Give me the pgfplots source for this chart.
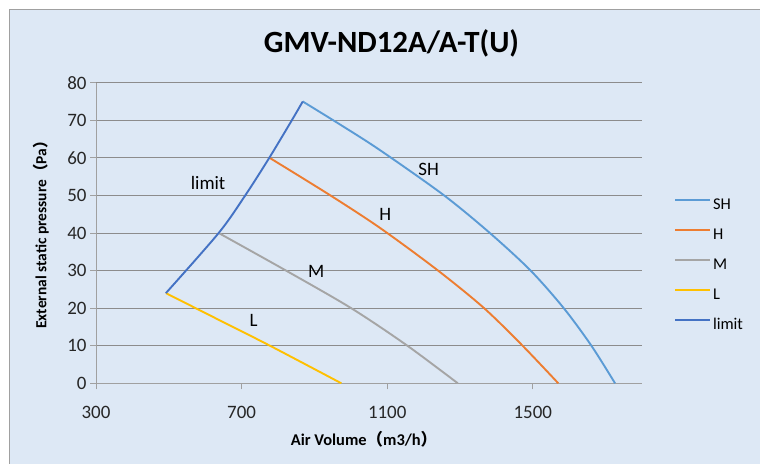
\documentclass[border=0pt]{standalone}
\usepackage{fontspec}
\setmainfont{Carlito}
\newfontfamily\cjk{Noto Sans CJK SC}
\usepackage{pgfplots}
\pgfplotsset{compat=1.18}
\definecolor{bgc}{RGB}{221,232,245}
\definecolor{gridc}{RGB}{140,140,140}
\definecolor{axc}{RGB}{160,160,160}
\definecolor{cSH}{RGB}{91,155,213}
\definecolor{cH}{RGB}{237,125,49}
\definecolor{cM}{RGB}{165,165,165}
\definecolor{cL}{RGB}{255,192,0}
\definecolor{cLim}{RGB}{68,114,196}
\begin{document}
\begin{tikzpicture}
\useasboundingbox (0bp,0bp) rectangle (760bp,464bp);
\fill[white] (0bp,0bp) rectangle (760bp,464bp);
\fill[bgc] (9.3bp,0bp) rectangle (760bp,454.7bp);
\draw[axc, line width=1bp] (9.3bp,0bp) -- (9.3bp,454.7bp) -- (760bp,454.7bp);
\node[font=\fontsize{31}{31}\selectfont\bfseries] at (391.5bp,421bp) {GMV-ND12A/A-T(U)};
\node[font=\fontsize{16.5}{16.5}\selectfont\bfseries] at (364bp,25bp) {Air Volume{\cjk （}m3/h{\cjk ）}};
\node[font=\fontsize{15.5}{15.5}\selectfont\bfseries, rotate=90] at (41bp,233bp) {External static pressure{\cjk （}Pa{\cjk ）}};
\begin{axis}[
  at={(96bp,80.7bp)}, anchor=south west,
  scale only axis, width=546bp, height=300.6bp,
  xmin=300, xmax=1800, ymin=0, ymax=80,
  xtick={300,700,1100,1500}, ytick={0,10,...,80},
  axis lines*=left,
  axis line style={axc, line width=1bp},
  tick style={axc, line width=1bp},
  tick align=outside, major tick length=6bp,
  ymajorgrids, grid style={gridc, line width=1bp},
  /pgf/number format/assume math mode=true,
  /pgf/number format/1000 sep={},
  tick label style={font=\fontsize{19}{19}\selectfont, text=black!85},
  xticklabel style={yshift=-13bp},
  legend cell align=left,
  legend style={at={(1.053,0.623)}, anchor=north west, draw=none, fill=none,
    font=\fontsize{16.5}{16.5}\selectfont, row sep=16bp, column sep=2bp,
    nodes={inner sep=0pt, text height=11bp, text depth=3bp}},
  legend image code/.code={\draw[#1] (0bp,5.5bp) -- (35bp,5.5bp);},
]
\addplot[cSH, line width=1.9bp, smooth] coordinates {(868,75) (975,68.6) (1081,62.0) (1255,50.1) (1382,40) (1494,30) (1585,20) (1661,10) (1726,0)};
\addlegendentry{SH}
\addplot[cH, line width=1.9bp, smooth] coordinates {(777,60) (944,50) (1081,41.3) (1237,30.2) (1365,20.1) (1472,10) (1570,0)};
\addlegendentry{H}
\addplot[cM, line width=1.9bp, smooth] coordinates {(637,40) (822,30) (1001,20) (1154,10.1) (1294,0)};
\addlegendentry{M}
\addplot[cL, line width=1.9bp, smooth] coordinates {(492,24) (635,17) (778,10) (974,0)};
\addlegendentry{L}
\addplot[cLim, line width=1.9bp, smooth] coordinates {(492,24) (637,40) (710,50) (776,60) (838,70) (868,75)};
\addlegendentry{limit}
\node[font=\fontsize{19}{19}\selectfont] at (axis cs:608,53.3) {limit};
\node[font=\fontsize{19}{19}\selectfont] at (axis cs:1214,57) {SH};
\node[font=\fontsize{19}{19}\selectfont] at (axis cs:1095,45) {H};
\node[font=\fontsize{19}{19}\selectfont] at (axis cs:905,29.7) {M};
\node[font=\fontsize{19}{19}\selectfont] at (axis cs:733,16.7) {L};
\end{axis}
\end{tikzpicture}
\end{document}
